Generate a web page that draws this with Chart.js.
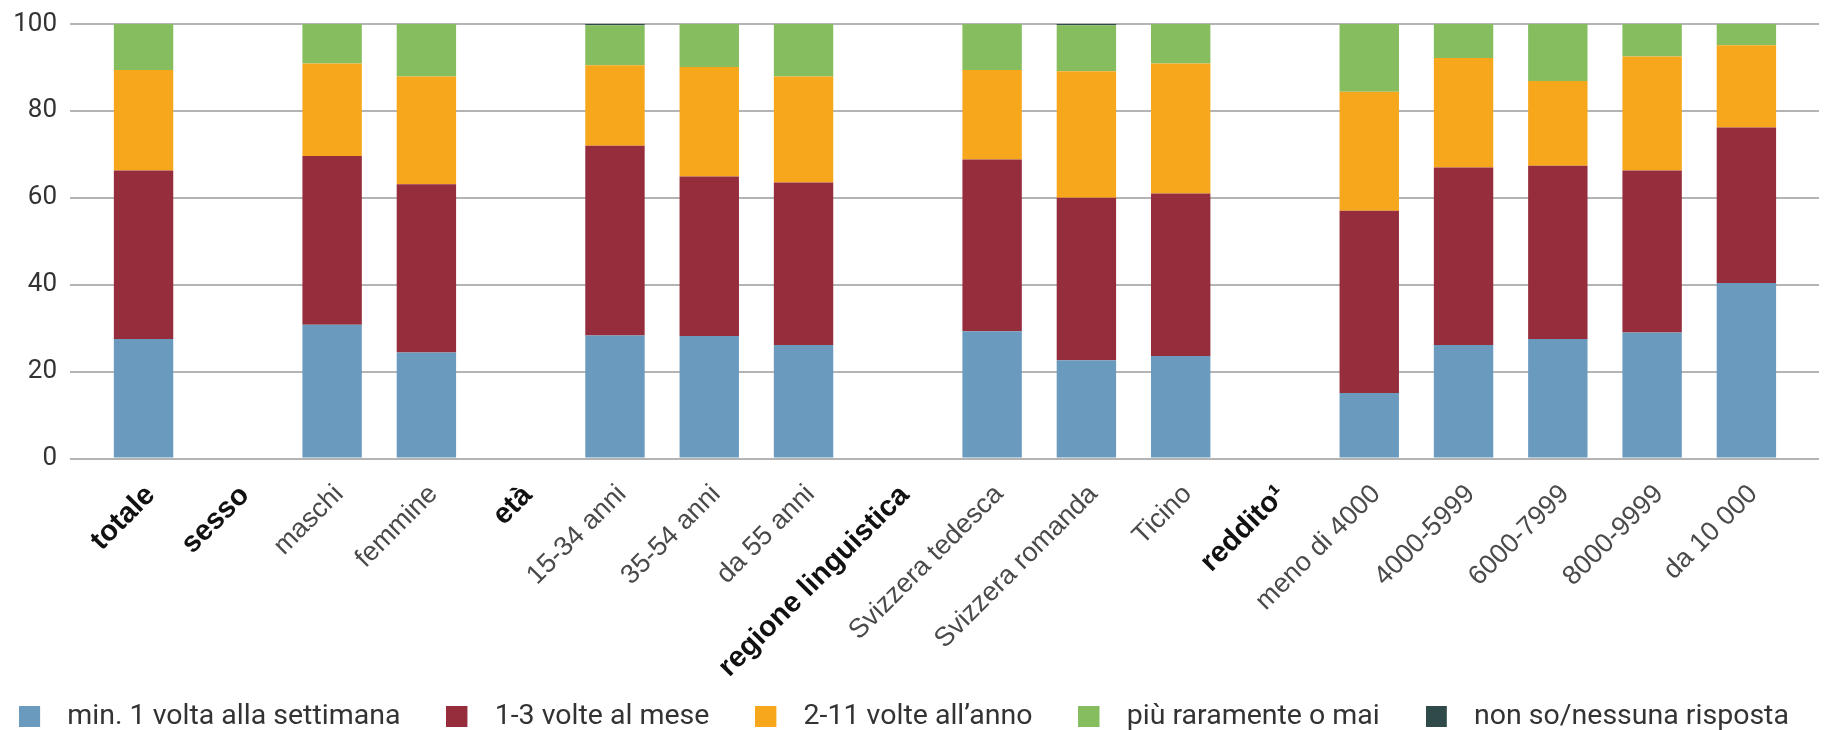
<!DOCTYPE html>
<html>
<head>
<meta charset="utf-8">
<script src="https://cdn.jsdelivr.net/npm/chart.js@4/dist/chart.umd.min.js"></script>
<style>
  html, body { margin: 0; padding: 0; background: #fff; }
  #wrap { width: 1826px; height: 730px; }
</style>
</head>
<body>
<div id="wrap"><canvas id="chart"></canvas></div>
<script>
// categorie (le intestazioni dei gruppi sono vuote)
var categorie = ['totale', 'sesso', 'maschi', 'femmine', 'età', '15-34 anni', '35-54 anni', 'da 55 anni',
  'regione linguistica', 'Svizzera tedesca', 'Svizzera romanda', 'Ticino', 'reddito\u00b9',
  'meno di 4000', '4000-5999', '6000-7999', '8000-9999', 'da 10 000'];
var intestazioni = ['totale', 'sesso', 'età', 'regione linguistica', 'reddito\u00b9'];

var settimana = [27.5, null, 30.8, 24.4, null, 28.3, 28.2, 26.1, null, 29.3, 22.6, 23.6, null, 15.1, 26.1, 27.5, 29.0, 40.4];
var mese      = [38.8, null, 38.8, 38.7, null, 43.7, 36.7, 37.4, null, 39.5, 37.4, 37.4, null, 41.9, 40.9, 39.9, 37.3, 35.8];
var anno      = [23.1, null, 21.3, 24.8, null, 18.5, 25.2, 24.4, null, 20.6, 29.1, 29.9, null, 27.4, 25.2, 19.5, 26.2, 18.9];
var raramente = [10.6, null, 9.1, 12.1, null, 9.2, 9.9, 12.1, null, 10.6, 10.6, 9.1, null, 15.6, 7.8, 13.1, 7.5, 4.9];
var nonSo     = [0, null, 0, 0, null, 0.3, 0, 0, null, 0, 0.3, 0, null, 0, 0, 0, 0, 0];

var tickY = [0, 20, 40, 60, 80, 100];

function punti(valori) {
  return valori.map(function (v, i) { return { x: i, y: v }; });
}

function serie(label, valori, colore) {
  return {
    label: label,
    data: punti(valori),
    backgroundColor: colore,
    borderWidth: 0,
    categoryPercentage: 1,
    barPercentage: 0.63
  };
}

// quadratino della legenda con spazio trasparente a destra
function quadrato(colore) {
  var c = document.createElement('canvas');
  c.width = 34;
  c.height = 21;
  var g = c.getContext('2d');
  g.fillStyle = colore;
  g.fillRect(0, 0, 21, 21);
  return c;
}

// le etichette ruotate scendono oltre il riquadro dell'asse x: niente taglio
var etichetteLunghe = {
  id: 'etichetteLunghe',
  afterLayout: function (ch) {
    ch.scales.x.bottom = ch.height;
  }
};

var ctx = document.getElementById('chart').getContext('2d');
var chart = new Chart(ctx, {
  type: 'bar',
  plugins: [etichetteLunghe],
  data: {
    datasets: [
      serie('min. 1 volta alla settimana', settimana, '#6b9abf'),
      serie('1-3 volte al mese', mese, '#962d3c'),
      serie('2-11 volte all\u2019anno', anno, '#f7a71c'),
      serie('più raramente o mai', raramente, '#85bd5f'),
      serie('non so/nessuna risposta', nonSo, '#2f4a48')
    ]
  },
  options: {
    responsive: true,
    maintainAspectRatio: false,
    animation: false,
    // margini laterali negativi: la legenda occupa tutta la larghezza
    layout: { padding: { top: 24, right: -31, bottom: -11, left: -49 } },
    plugins: {
      tooltip: { enabled: false },
      legend: {
        position: 'bottom',
        labels: {
          usePointStyle: true,
          pointStyleWidth: 34,
          boxHeight: 21,
          padding: 46,
          color: '#333',
          font: { family: 'Roboto', size: 28.5 },
          generateLabels: function (ch) {
            var items = Chart.defaults.plugins.legend.labels.generateLabels(ch);
            items.forEach(function (it) {
              it.pointStyle = quadrato(ch.data.datasets[it.datasetIndex].backgroundColor);
            });
            return items;
          }
        }
      }
    },
    scales: {
      x: {
        type: 'linear',
        stacked: true,
        offset: false,
        min: -0.78,
        max: 17.77,
        grid: { display: false },
        border: { display: false },
        afterBuildTicks: function (s) {
          s.ticks = categorie.map(function (c, i) { return { value: i }; });
        },
        afterFit: function (s) { s.height = 198; },
        ticks: {
          autoSkip: false,
          minRotation: 45,
          maxRotation: 45,
          padding: 12,
          labelOffset: 7,
          callback: function (v) { return categorie[v]; },
          color: function (c) {
            return intestazioni.indexOf(categorie[c.index]) >= 0 ? '#111' : '#4a4a4a';
          },
          font: function (c) {
            var bold = intestazioni.indexOf(categorie[c.index]) >= 0;
            return { family: 'Liberation Sans', size: bold ? 29 : 27, weight: bold ? 'bold' : 'normal' };
          }
        }
      },
      y: {
        stacked: true,
        min: 0,
        max: 100,
        afterBuildTicks: function (s) {
          s.ticks = tickY.map(function (v) { return { value: v }; });
        },
        afterFit: function (s) {
          s.width = 119;
          s.paddingTop = 0;
          s.paddingBottom = 0;
        },
        grid: { color: '#b4b4b4', lineWidth: 2, drawTicks: false },
        border: { display: false },
        ticks: {
          padding: 13,
          color: '#333',
          font: { family: 'Roboto', size: 26 }
        }
      },
      destra: {
        type: 'linear',
        position: 'right',
        grid: { display: false },
        border: { display: false },
        ticks: { display: false },
        afterFit: function (s) { s.width = 38; }
      }
    }
  }
});
</script>
</body>
</html>
